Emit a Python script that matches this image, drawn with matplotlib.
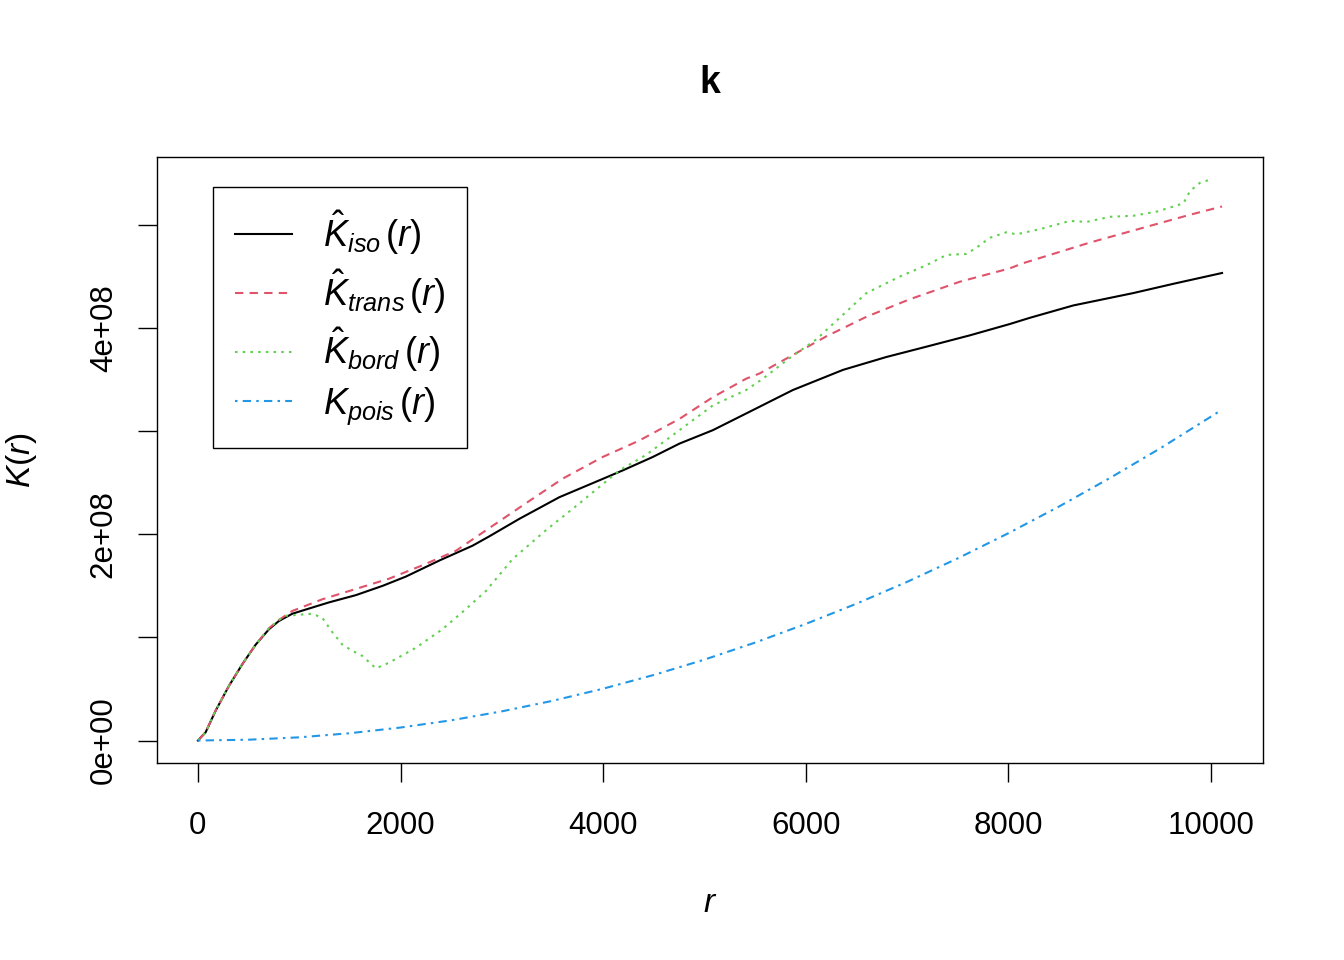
import numpy as np
import matplotlib
matplotlib.use("Agg")
import matplotlib.pyplot as plt
from matplotlib.ticker import FixedLocator, FixedFormatter

plt.rcParams['font.family'] = ['Liberation Sans', 'DejaVu Sans']
plt.rcParams['mathtext.fontset'] = 'custom'
plt.rcParams['mathtext.rm'] = 'Liberation Sans'
plt.rcParams['mathtext.it'] = 'Liberation Sans:italic'
plt.rcParams['mathtext.bf'] = 'Liberation Sans:bold'

# values (K in units of 1e8)
r_iso = [0, 76, 175, 306, 438, 570, 702, 800, 932, 1063, 1294, 1558, 1822, 2052,
         2381, 2711, 2875, 3172, 3567, 3929, 4193, 4489, 4753, 5082, 5478, 5741,
         5873, 6367, 6795, 7190, 7619, 8014, 8211, 8640, 9232, 9628, 10109]
k_iso = [0, 0.08, 0.29, 0.53, 0.74, 0.93, 1.08, 1.16, 1.23, 1.27, 1.34, 1.41, 1.50, 1.59,
         1.745, 1.89, 1.98, 2.15, 2.36, 2.51, 2.62, 2.75, 2.88, 3.01, 3.205, 3.335,
         3.40, 3.595, 3.72, 3.82, 3.93, 4.04, 4.10, 4.22, 4.34, 4.43, 4.535]

r_trans = [0, 76, 175, 306, 438, 570, 702, 800, 932, 1228, 1558, 1887, 2217, 2546,
           2800, 3205, 3600, 3995, 4357, 4753, 5082, 5412, 5543, 5873, 6202, 6598,
           7026, 7520, 8014, 8145, 8475, 8804, 9134, 9463, 9793, 10109]
k_trans = [0, 0.08, 0.29, 0.53, 0.74, 0.93, 1.09, 1.17, 1.257, 1.37, 1.47, 1.57, 1.70, 1.84,
           2.01, 2.28, 2.54, 2.75, 2.91, 3.12, 3.33, 3.51, 3.56, 3.74, 3.92, 4.11,
           4.28, 4.45, 4.58, 4.63, 4.73, 4.83, 4.92, 5.01, 5.10, 5.18]

r_bord = [0, 76, 175, 306, 438, 570, 702, 800, 865, 1129, 1228, 1327, 1426, 1525,
          1624, 1756, 1887, 2151, 2414, 2645, 2842, 3106, 3435, 3765, 4160, 4423,
          4753, 5082, 5412, 5577, 5840, 6103, 6334, 6598, 6927, 7190, 7388, 7586,
          7684, 7816, 7981, 8080, 8310, 8607, 8771, 9002, 9232, 9463, 9628, 9727,
          9793, 9891, 9990]
k_bord = [0, 0.08, 0.29, 0.53, 0.74, 0.93, 1.09, 1.17, 1.21, 1.23, 1.19, 1.05, 0.93, 0.87,
          0.82, 0.70, 0.755, 0.90, 1.08, 1.275, 1.45, 1.76, 2.04, 2.30, 2.62, 2.77,
          3.01, 3.25, 3.40, 3.51, 3.71, 3.89, 4.10, 4.34, 4.50, 4.61, 4.71, 4.72,
          4.78, 4.876, 4.93, 4.91, 4.96, 5.04, 5.03, 5.08, 5.09, 5.13, 5.18, 5.21,
          5.33, 5.41, 5.44]

r_pois = [0, 500, 1000, 1500, 2000, 2500, 3000, 3500, 4000, 4500, 5000, 5500, 6000,
          6500, 7000, 7500, 8000, 8500, 9000, 9500, 10000, 10109]
k_pois = [0, 0.0079, 0.031, 0.071, 0.126, 0.196, 0.283, 0.385, 0.503, 0.636, 0.785, 0.950, 1.131,
          1.327, 1.539, 1.767, 2.011, 2.270, 2.545, 2.835, 3.142, 3.21]

x_ticks = [0, 2000, 4000, 6000, 8000, 10000]
y_ticks = [0, 1e8, 2e8, 3e8, 4e8, 5e8]
y_tick_labels = ['0e+00', '', '2e+08', '', '4e+08', '']

labels = [r'$\hat{K}_{iso}\,(r)$', r'$\hat{K}_{trans}\,(r)$',
          r'$\hat{K}_{bord}\,(r)$', r'$K_{pois}\,(r)$']
colors = ['black', '#DF536B', '#61D04F', '#2297E6']

fig = plt.figure(figsize=(13.44, 9.6), dpi=100)
ax = fig.add_axes([157 / 1344, 1 - 763 / 960, 1106 / 1344, 606 / 960])

lw = 1.5
ax.plot(r_iso, np.array(k_iso) * 1e8, color=colors[0], lw=lw, label=labels[0])
ax.plot(r_trans, np.array(k_trans) * 1e8, color=colors[1], lw=lw,
        linestyle=(0, (4, 3)), label=labels[1])
ax.plot(r_bord, np.array(k_bord) * 1e8, color=colors[2], lw=lw,
        linestyle=(0, (1.2, 2.5)), label=labels[2])
ax.plot(r_pois, np.array(k_pois) * 1e8, color=colors[3], lw=lw,
        linestyle=(0, (1.2, 2.5, 4, 2.5)), label=labels[3])

ax.set_xlim(-404, 10513)
ax.set_ylim(-0.218e8, 5.66e8)

ax.xaxis.set_major_locator(FixedLocator(x_ticks))
ax.yaxis.set_major_locator(FixedLocator(y_ticks))
ax.yaxis.set_major_formatter(FixedFormatter(y_tick_labels))
ax.tick_params(direction='out', length=13.5, width=1.0, labelsize=22.5)
ax.tick_params(axis='x', pad=21)
ax.tick_params(axis='y', pad=14)
for lab in ax.get_yticklabels():
    lab.set_rotation(90)
    lab.set_va('center')

for sp in ax.spines.values():
    sp.set_linewidth(1.0)

ax.set_xlabel(r'$r$', fontsize=24, labelpad=34)
ax.set_ylabel(r'$K(r)$', fontsize=24, labelpad=36)
ax.set_title('k', fontsize=27, fontweight='bold', pad=46)

leg = ax.legend(loc='upper left', bbox_to_anchor=(0.0506, 0.9505), borderaxespad=0,
                fontsize=26, fancybox=False, edgecolor='black', framealpha=1,
                handlelength=1.6, handletextpad=0.85, labelspacing=0.3,
                borderpad=0.6)
leg.get_frame().set_linewidth(1.0)

fig.savefig('out.png', dpi=100)
